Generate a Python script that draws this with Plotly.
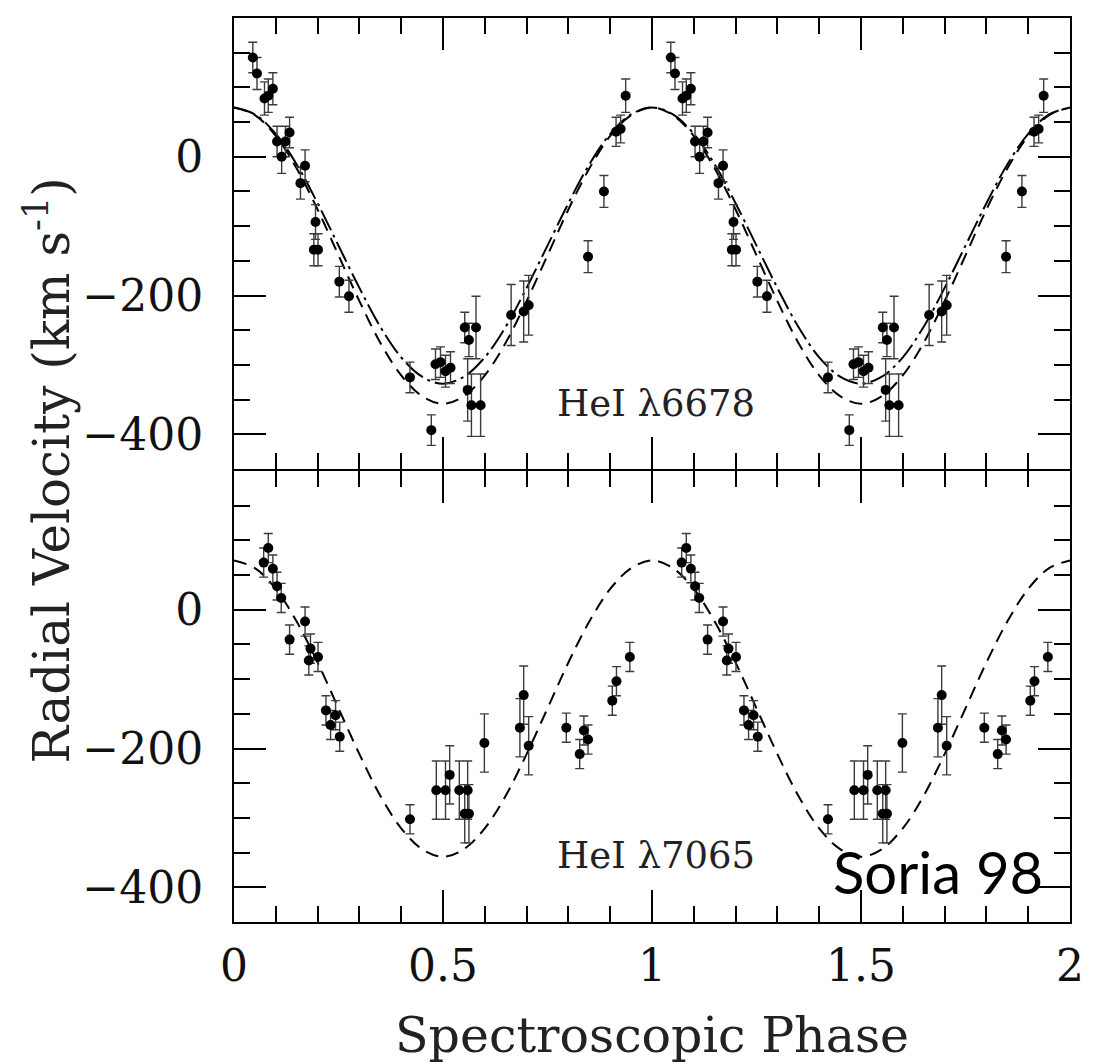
import plotly.graph_objects as go

# ---------------- data ----------------
# HeI 6678 (top panel), one cycle of phase
he6678_phase = [0.045, 0.055, 0.073, 0.082, 0.093, 0.103, 0.114, 0.123, 0.133, 0.159,
                0.170, 0.191, 0.195, 0.201, 0.252, 0.275, 0.421, 0.472, 0.482, 0.494,
                0.506, 0.518, 0.552, 0.559, 0.562, 0.568, 0.579, 0.590, 0.663, 0.693,
                0.705, 0.847, 0.885, 0.914, 0.925, 0.937]
he6678_rv = [143, 120, 84, 88, 98, 22, 0, 22, 35, -38,
             -13, -134, -94, -134, -180, -201, -318, -394, -299, -296,
             -309, -304, -246, -336, -264, -358, -246, -358, -228, -223,
             -214, -144, -50, 36, 40, 88]
he6678_err = [22, 23, 24, 24, 23, 22, 24, 22, 22, 23,
              23, 23, 25, 23, 22, 23, 22, 22, 22, 22,
              23, 23, 22, 45, 24, 45, 45, 45, 44, 44,
              43, 23, 23, 21, 20, 24]

# HeI 7065 (bottom panel), one cycle of phase
he7065_phase = [0.071, 0.082, 0.093, 0.103, 0.113, 0.133, 0.170, 0.179, 0.183, 0.201,
                0.220, 0.231, 0.243, 0.253, 0.421, 0.484, 0.506, 0.516, 0.539, 0.552,
                0.559, 0.562, 0.599, 0.684, 0.693, 0.705, 0.795, 0.827, 0.837, 0.847,
                0.905, 0.915, 0.947]
he7065_rv = [68, 89, 59, 34, 17, -43, -17, -73, -56, -68,
             -145, -166, -152, -183, -302, -260, -260, -238, -260, -294,
             -260, -294, -192, -170, -123, -196, -170, -208, -174, -187,
             -131, -103, -68]
he7065_err = [21, 21, 20, 20, 21, 21, 21, 21, 21, 21,
              21, 21, 21, 21, 21, 42, 42, 42, 42, 42,
              42, 42, 42, 42, 42, 42, 21, 21, 21, 21,
              21, 21, 21]

# model curves at steps of 0.05 in phase (one cycle)
curve_phase = [0.00, 0.05, 0.10, 0.15, 0.20, 0.25, 0.30, 0.35, 0.40, 0.45, 0.50,
               0.55, 0.60, 0.65, 0.70, 0.75, 0.80, 0.85, 0.90, 0.95, 1.00]
dashdot_rv = [71, 61, 33, -11, -67, -128, -189, -245, -289, -317, -327,
              -317, -289, -245, -189, -128, -67, -11, 33, 61, 71]
dashed_rv = [71, 60, 30, -17, -76, -142, -208, -268, -315, -345, -356,
             -345, -315, -268, -208, -142, -76, -17, 30, 60, 71]

x_ticks = [0, 0.5, 1, 1.5, 2]
x_ticklabels = ["0", "0.5", "1", "1.5", "2"]
y_ticks = [-400, -200, 0]
y_ticklabels = ["\u2212400", "\u2212200", "0"]

# ---------------- helpers ----------------
def two_cycles(ph, vals):
    return list(ph) + [p + 1 for p in ph], list(vals) + list(vals)

SERIF = "DejaVu Serif"

fig = go.Figure()

def add_points(ph, rv, err, xa, ya):
    X, Y = two_cycles(ph, rv)
    _, E = two_cycles(ph, err)
    fig.add_trace(go.Scatter(
        x=X, y=Y, mode="markers", xaxis=xa, yaxis=ya,
        marker=dict(color="black", size=10, line=dict(width=0)),
        error_y=dict(type="data", array=E, visible=True, color="#3c3c3c",
                     thickness=1.4, width=4.5),
        showlegend=False, hoverinfo="skip"))

def add_curve(vals, dash, xa, ya):
    X, Y = two_cycles(curve_phase[:-1], vals[:-1])
    X.append(2.0)
    Y.append(vals[-1])
    fig.add_trace(go.Scatter(
        x=X, y=Y, mode="lines", xaxis=xa, yaxis=ya,
        line=dict(color="black", width=2, dash=dash, shape="spline", smoothing=1.0),
        showlegend=False, hoverinfo="skip"))

# top panel
add_curve(dashdot_rv, "22px,5px,3px,5px", "x2", "y")
add_curve(dashed_rv, "13px,8px", "x2", "y")
add_points(he6678_phase, he6678_rv, he6678_err, "x2", "y")
# bottom panel
add_curve(dashed_rv, "13px,8px", "x", "y2")
add_points(he7065_phase, he7065_rv, he7065_err, "x", "y2")

axis_common = dict(showline=True, linecolor="black", linewidth=2, mirror="ticks",
                   ticks="inside", tickcolor="black", tickwidth=1.6, showgrid=False,
                   zeroline=False)

half_gap = 1.0 / 904
minor_x = dict(dtick=0.1, tick0=0, ticklen=16, ticks="inside",
               tickcolor="black", tickwidth=1.6, showgrid=False)
minor_y = dict(dtick=50, tick0=0, ticklen=16, ticks="inside",
               tickcolor="black", tickwidth=1.6, showgrid=False)

fig.update_layout(
    width=1095, height=1064,
    margin=dict(l=234, r=25, t=18, b=142),
    paper_bgcolor="white", plot_bgcolor="white",
    font=dict(family=SERIF, color="black"),
    xaxis=dict(domain=[0, 1], anchor="y2", range=[0, 2],
               tickmode="array", tickvals=x_ticks, ticktext=x_ticklabels, ticklen=32,
               minor=minor_x,
               tickfont=dict(family=SERIF, size=44, color="#111"), ticklabelstandoff=4,
               **axis_common),
    xaxis2=dict(domain=[0, 1], anchor="y", range=[0, 2], matches="x",
                tickmode="array", tickvals=x_ticks, ticklen=32, showticklabels=False,
                minor=minor_x, **axis_common),
    yaxis=dict(domain=[0.5 + half_gap, 1], anchor="x2", range=[-450, 200],
               tickmode="array", tickvals=y_ticks, ticktext=y_ticklabels, ticklen=32,
               minor=minor_y,
               tickfont=dict(family=SERIF, size=44, color="#111"), ticklabelstandoff=20,
               **axis_common),
    yaxis2=dict(domain=[0, 0.5 - half_gap], anchor="x", range=[-450, 200],
                tickmode="array", tickvals=y_ticks, ticktext=y_ticklabels, ticklen=32,
                minor=minor_y,
                tickfont=dict(family=SERIF, size=44, color="#111"), ticklabelstandoff=20,
                **axis_common),
)

annotations = [
    dict(text="Radial Velocity (km s<sup>-1</sup>)", xref="paper", yref="paper",
         x=-0.222, y=0.5, xanchor="center", yanchor="middle", textangle=-90,
         showarrow=False, font=dict(family=SERIF, size=50, color="#222")),
    dict(text="Spectroscopic Phase", xref="paper", yref="paper",
         x=0.5, y=-0.125, xanchor="center", yanchor="middle",
         showarrow=False, font=dict(family=SERIF, size=49, color="#222")),
    dict(text="HeI \u03bb6678", xref="x2", yref="y", x=1.01, y=-355,
         xanchor="center", yanchor="middle", showarrow=False,
         font=dict(family=SERIF, size=37, color="#222")),
    dict(text="HeI \u03bb7065", xref="x", yref="y2", x=1.01, y=-354,
         xanchor="center", yanchor="middle", showarrow=False,
         font=dict(family=SERIF, size=37, color="#222")),
    dict(text="Soria 98", xref="x", yref="y2", x=1.685, y=-377,
         xanchor="center", yanchor="middle", showarrow=False,
         font=dict(family="Lato", size=58, color="black")),
]
fig.update_layout(annotations=annotations)

fig.write_html("out.html")
